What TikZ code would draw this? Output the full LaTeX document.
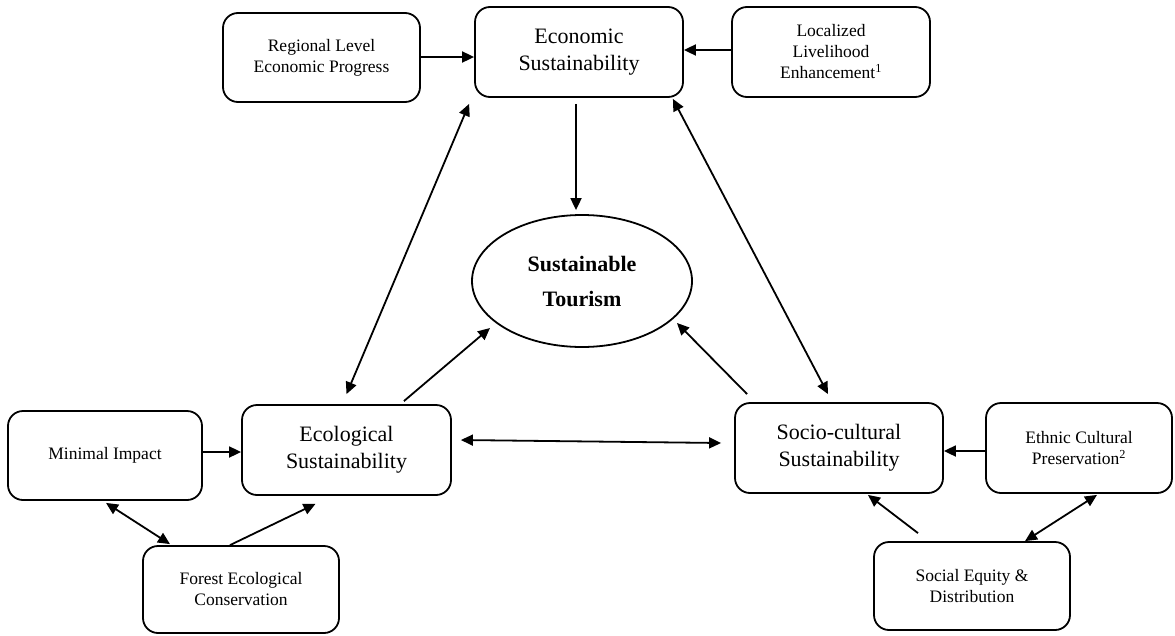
\documentclass[tikz,border=0pt]{standalone}
\usepackage{fontspec}
\setmainfont{Liberation Serif}
\usetikzlibrary{arrows.meta,shapes.geometric,calc}
\tikzset{
  box/.style={draw=black,line width=1.8pt,rounded corners=15pt,align=center,inner sep=0pt},
  bigbox/.style={box,font=\fontsize{22}{27}\selectfont},
  smallbox/.style={box,font=\fontsize{17.5}{21}\selectfont},
  conn/.style={line width=1.8pt,-{Triangle[length=12pt,width=11pt]}},
  dconn/.style={line width=1.8pt,{Triangle[length=12pt,width=11pt]}-{Triangle[length=12pt,width=11pt]}}
}
\begin{document}
\begin{tikzpicture}[x=1pt,y=-1pt]
\useasboundingbox (0,0) rectangle (1175,635);
% top row
\node[smallbox,minimum width=197pt,minimum height=89pt] (reg) at (321.5,57.5) {Regional Level\\Economic Progress};
\node[bigbox,minimum width=208pt,minimum height=90pt] (eco) at (579,52) {Economic\\Sustainability};
\node[smallbox,minimum width=198pt,minimum height=90pt] (loc) at (831,52) {Localized\\Livelihood\\Enhancement\textsuperscript{1}};
% center
\node[draw=black,line width=1.8pt,ellipse,minimum width=220pt,minimum height=132pt,inner sep=0pt,align=center,font=\fontsize{22}{35}\selectfont\bfseries] (tour) at (582,281) {Sustainable\\Tourism};
% bottom left
\node[smallbox,minimum width=194pt,minimum height=89pt] (min) at (105,455.5) {Minimal Impact};
\node[bigbox,minimum width=209pt,minimum height=90pt] (ecol) at (346.5,450) {Ecological\\Sustainability};
\node[smallbox,minimum width=196pt,minimum height=87pt] (for) at (241,589.5) {Forest Ecological\\Conservation};
% bottom right
\node[bigbox,minimum width=208pt,minimum height=90pt] (soc) at (839,448) {Socio-cultural\\Sustainability};
\node[smallbox,minimum width=186pt,minimum height=90pt] (eth) at (1079,448) {Ethnic Cultural\\Preservation\textsuperscript{2}};
\node[smallbox,minimum width=196pt,minimum height=88pt] (seq) at (972,586) {Social Equity \&\\Distribution};
% connectors
\draw[conn] ([shift={(0,-0.5)}]reg.east) -- ([shift={(0,-0.5)}]reg.east -| eco.west);
\draw[conn] ([shift={(0,-2)}]loc.west) -- ([shift={(0,-2)}]loc.west -| eco.east);
\draw[dconn] ([shift={(-5,6)}]eco.south west) -- ([shift={(0,-10)}]ecol.north);
\draw[conn] ([shift={(-3,6)}]eco.south) -- ([shift={(-6,-4)}]tour.north);
\draw[dconn] ([shift={(-11,1)}]eco.south east) -- ([shift={(-11,-8)}]soc.north);
\draw[conn] ([shift={(-48,-3)}]ecol.north east) -- ([shift={(-92,47)}]tour.center);
\draw[conn] ([shift={(13,-8)}]soc.north west) -- ([shift={(95,42)}]tour.center);
\draw[dconn] ([shift={(9,-10)}]ecol.east) -- ([shift={(-13,-5)}]soc.west);
\draw[conn] ([shift={(0,-3.5)}]min.east) -- ([shift={(0,-3.5)}]min.east -| ecol.west);
\draw[dconn] ([shift={(1,2)}]min.south) -- ([shift={(-71,-1)}]for.north);
\draw[conn] ([shift={(-11,0)}]for.north) -- ([shift={(-31,8)}]ecol.south);
\draw[conn] ([shift={(0,3)}]eth.west) -- ([shift={(0,3)}]eth.west -| soc.east);
\draw[conn] ([shift={(-54,-8)}]seq.north) -- ([shift={(29,1)}]soc.south);
\draw[dconn] ([shift={(18,1)}]eth.south) -- ([shift={(53,0)}]seq.north);
\end{tikzpicture}
\end{document}
